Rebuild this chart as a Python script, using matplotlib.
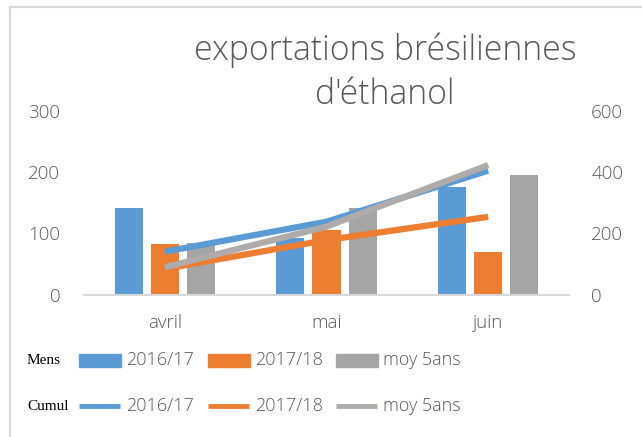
import numpy as np
import matplotlib.pyplot as plt
from matplotlib.lines import Line2D
from matplotlib.patches import Rectangle

mois = ["avril", "mai", "juin"]
series = ["2016/17", "2017/18", "moy 5ans"]
mens_1617 = [141, 93, 176]
mens_1718 = [82, 105, 69]
mens_moy = [85, 141, 195]
cumul_1617 = [140, 238, 405]
cumul_1718 = [84, 178, 254]
cumul_moy = [89, 222, 423]

coul_bar = ["#5b9bd5", "#ed7d31", "#a5a5a5"]
coul_ligne = ["#5b9bd5", "#ed7d31", "#afabab"]
gris = "#595959"

plt.rcParams['font.family'] = ['Open Sans', 'DejaVu Sans']
plt.rcParams['font.weight'] = 'light'

W, H = 642, 437
fig = plt.figure(figsize=(W/100, H/100), dpi=100)

# axe principal (mensuel) + axe secondaire (cumul)
ax = fig.add_axes([84/W, 1-294.5/H, (569-84)/W, (294.5-111)/H])
ax2 = ax.twinx()

x = np.arange(len(mois))
for i, vals in enumerate([mens_1617, mens_1718, mens_moy]):
    ax.bar(x + (i-1)*0.224, vals, 0.174, color=coul_bar[i])
for i, vals in enumerate([cumul_1617, cumul_1718, cumul_moy]):
    ax2.plot(x, vals, color=coul_ligne[i], lw=4.5, solid_capstyle='butt')

ax.set_xlim(-0.5, 2.5)
ax.set_ylim(0, 300)
ax2.set_ylim(0, 600)
ax.set_yticks([0, 100, 200, 300])
ax2.set_yticks([0, 200, 400, 600])
ax.set_xticks(x)
ax.set_xticklabels(mois)

for a in (ax, ax2):
    for s in a.spines.values():
        s.set_visible(False)
ax.spines['bottom'].set_visible(True)
ax.spines['bottom'].set_color("#d9d9d9")
ax.spines['bottom'].set_linewidth(1.5)

ax.tick_params(axis='y', length=0, pad=17, labelsize=13.5, labelcolor=gris)
ax.tick_params(axis='x', length=0, pad=14, labelsize=13.5, labelcolor=gris)
ax2.tick_params(axis='y', length=0, pad=16, labelsize=13.5, labelcolor=gris)

# titre
fig.text(385/W, 1-50/H, "exportations brésiliennes", ha='center', va='center',
         fontsize=24.3, color=gris)
fig.text(385/W, 1-95/H, "d'éthanol", ha='center', va='center',
         fontsize=24.3, color=gris)

# légende manuelle
x0s = [79, 208, 336]
fig.text(27/W, 1-360/H, "Mens", ha='left', va='center', fontsize=11,
         family=['Liberation Serif', 'DejaVu Serif'], weight='normal', color='black')
fig.text(27/W, 1-406/H, "Cumul", ha='left', va='center', fontsize=11,
         family=['Liberation Serif', 'DejaVu Serif'], weight='normal', color='black')
for i, nom in enumerate(series):
    x0 = x0s[i]
    fig.add_artist(Rectangle((x0/W, 1-367/H), 42/W, 13.5/H,
                             transform=fig.transFigure, color=coul_bar[i]))
    fig.add_artist(Line2D([x0/W, (x0+41)/W], [1-406/H, 1-406/H],
                          transform=fig.transFigure, color=coul_ligne[i],
                          lw=3.5, solid_capstyle='butt'))
    fig.text((x0+47)/W, 1-360/H, nom, ha='left', va='center', fontsize=13,
             color=gris)
    fig.text((x0+47)/W, 1-406/H, nom, ha='left', va='center', fontsize=13,
             color=gris)

# cadre
fig.add_artist(Line2D([9.5/W, 1], [1-7/H, 1-7/H], transform=fig.transFigure,
                      color="#d9d9d9", lw=1.6))
fig.add_artist(Line2D([9.5/W, 9.5/W], [0, 1-7/H], transform=fig.transFigure,
                      color="#d9d9d9", lw=1.6))

fig.savefig("out.png", dpi=100)
